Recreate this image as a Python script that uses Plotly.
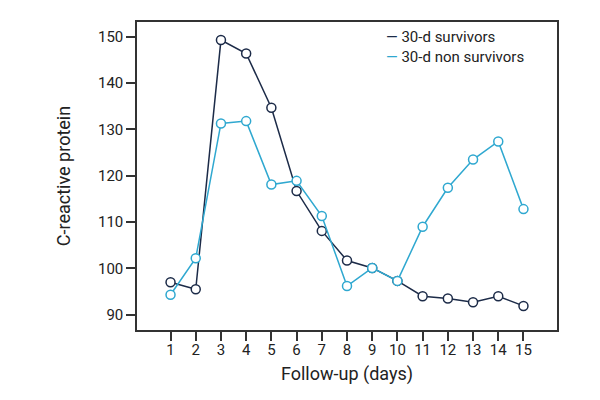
import plotly.graph_objects as go

days = list(range(1, 16))
survivors = [97.0, 95.5, 149.3, 146.4, 134.7, 116.7, 108.1, 101.7, 100.1, 97.3, 94.0, 93.5, 92.7, 94.0, 91.9]
non_survivors = [94.3, 102.2, 131.3, 131.8, 118.1, 118.9, 111.3, 96.2, 100.1, 97.3, 109.0, 117.4, 123.5, 127.4, 112.8]
y_ticks = [90, 100, 110, 120, 130, 140, 150]
series_names = ["30-d survivors", "30-d non survivors"]

FONT = "Roboto, sans-serif"
DARK = "#1c2b48"
CYAN = "#2fa8d0"
colors = [DARK, CYAN]

fig = go.Figure()
for name, vals, col in zip(series_names, [survivors, non_survivors], colors):
    fig.add_trace(go.Scatter(x=days, y=vals, mode="lines+markers", name=name,
                             showlegend=False,
                             line=dict(color=col, width=1.5),
                             marker=dict(symbol="circle", size=9, color="white",
                                         line=dict(color=col, width=1.5))))

# legend drawn as text: short coloured dash + label, one block
legend_text = "<br>".join(f"<span style='color:{c}'>—</span> {n}" for n, c in zip(series_names, colors))
fig.add_annotation(xref="paper", yref="paper", x=0.588, y=0.92,
                   xanchor="left", yanchor="middle", align="left", showarrow=False,
                   text=legend_text,
                   font=dict(family=FONT, size=15, color="#222222"))

fig.update_layout(
    width=600, height=400,
    margin=dict(l=129, r=51, t=14, b=78),
    paper_bgcolor="white", plot_bgcolor="white",
    font=dict(family=FONT, size=15, color="#222222"),
    xaxis=dict(range=[-0.33, 16.33], tickvals=days, ticktext=[str(d) for d in days],
               showgrid=False, zeroline=False, showline=True, linecolor="#333333", linewidth=1.5,
               mirror=True, ticks="outside", ticklen=9, tickwidth=1.5, tickcolor="#333333",
               ticklabelstandoff=-4,
               title=dict(text="Follow-up (days)", standoff=10)),
    yaxis=dict(range=[86.7, 153.2], tickvals=y_ticks,
               showgrid=False, zeroline=False, showline=True, linecolor="#333333", linewidth=1.5,
               mirror=True, ticks="outside", ticklen=9, tickwidth=1.5, tickcolor="#333333",
               title=dict(text="C-reactive protein", standoff=23)),
)

fig.write_html("out.html")
